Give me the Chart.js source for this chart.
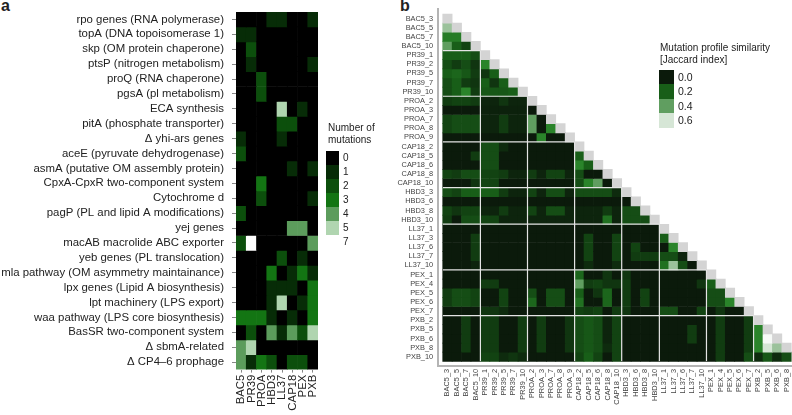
<!DOCTYPE html>
<html>
<head>
<meta charset="utf-8">
<script src="https://cdn.jsdelivr.net/npm/chart.js@4.4.0/dist/chart.umd.min.js"></script>
<style>
  body { margin: 0; background: #fff; width: 792px; height: 415px; position: relative; overflow: hidden;
         font-family: "Liberation Sans", Arial, Helvetica, sans-serif; color: #222; }
  #wrapA { position: absolute; left: 0; top: 0; width: 330px; height: 415px; }
  #wrapB { position: absolute; left: 380px; top: 0; width: 412px; height: 415px; }
  .tag { position: absolute; font-weight: bold; font-size: 16px; line-height: 16px; }
  .lg { position: absolute; font-size: 10px; line-height: 12px; white-space: nowrap; }
  .key { position: absolute; }
</style>
</head>
<body>
<div class="tag" style="left:1px; top:-2px;">a</div>
<div class="tag" style="left:400px; top:-2px;">b</div>
<div id="wrapA"><canvas id="chartA" width="330" height="415"></canvas></div>
<div id="wrapB"><canvas id="chartB" width="412" height="415"></canvas></div>
<div class="lg" style="left:328px; top:122px;">Number of<br>mutations</div>
<div id="legendA"></div>
<div class="lg" style="left:660px; top:42px;">Mutation profile similarity<br>[Jaccard index]</div>
<div id="legendB"></div>
<script>
const family = "'Liberation Sans', Arial, Helvetica, sans-serif";
Chart.defaults.font.family = family;

// panel a: number of mutations per gene / treatment
const peptides = ["BAC5", "PR39", "PROA", "HBD3", "LL37", "CAP18", "PEX", "PXB"];
const genes = [
  "rpo genes (RNA polymerase)",
  "topA (DNA topoisomerase 1)",
  "skp (OM protein chaperone)",
  "ptsP (nitrogen metabolism)",
  "proQ (RNA chaperone)",
  "pgsA (pl metabolism)",
  "ECA synthesis",
  "pitA (phosphate transporter)",
  "\u0394 yhi-ars genes",
  "aceE (pyruvate dehydrogenase)",
  "asmA (putative OM assembly protein)",
  "CpxA-CpxR two-component system",
  "Cytochrome d",
  "pagP (PL and lipid A modifications)",
  "yej genes",
  "macAB macrolide ABC exporter",
  "yeb genes (PL translocation)",
  "mla pathway (OM asymmetry maintainance)",
  "lpx genes (Lipid A biosynthesis)",
  "lpt machinery (LPS export)",
  "waa pathway (LPS core biosynthesis)",
  "BasSR two-component system",
  "\u0394 sbmA-related",
  "\u0394 CP4\u20136 prophage",
];
const mutations = [
  [0, 0, 0, 1, 1, 0, 0, 1],
  [1, 1, 0, 0, 0, 0, 0, 0],
  [0, 2, 0, 0, 0, 0, 0, 0],
  [0, 1, 0, 0, 0, 0, 0, 1],
  [0, 0, 2, 0, 0, 0, 0, 0],
  [0, 0, 2, 0, 0, 0, 0, 0],
  [0, 0, 0, 0, 5, 0, 1, 0],
  [0, 0, 0, 0, 2, 2, 0, 0],
  [1, 0, 0, 0, 1, 0, 0, 0],
  [2, 0, 0, 0, 0, 0, 0, 0],
  [0, 0, 0, 0, 0, 1, 0, 1],
  [0, 0, 3, 0, 0, 0, 0, 0],
  [0, 0, 2, 0, 0, 0, 0, 1],
  [2, 0, 0, 0, 0, 0, 0, 0],
  [0, 0, 0, 0, 0, 4, 4, 0],
  [2, 7, 0, 0, 0, 0, 0, 4],
  [0, 0, 0, 0, 2, 0, 1, 0],
  [0, 0, 0, 3, 0, 1, 3, 1],
  [0, 0, 0, 1, 1, 1, 0, 3],
  [0, 0, 0, 1, 5, 0, 1, 3],
  [3, 3, 3, 1, 0, 1, 0, 3],
  [0, 2, 0, 4, 1, 4, 2, 5],
  [4, 5, 0, 0, 0, 0, 0, 0],
  [4, 1, 3, 2, 0, 2, 2, 0],
];
const countLevels = [0, 1, 2, 3, 4, 5, 7];
const countColors = { 0: "#000000", 1: "#072c07", 2: "#0c4f0c", 3: "#137513", 4: "#5c9c5c", 5: "#b0d5b0", 7: "#ffffff" };

// panel b: pairwise Jaccard similarity of isolates (lower triangle)
const isolates = [
  "BAC5_3", "BAC5_5", "BAC5_7", "BAC5_10",
  "PR39_1", "PR39_2", "PR39_5", "PR39_7", "PR39_10",
  "PROA_2", "PROA_3", "PROA_7", "PROA_8", "PROA_9",
  "CAP18_2", "CAP18_5", "CAP18_6", "CAP18_8", "CAP18_10",
  "HBD3_3", "HBD3_6", "HBD3_8", "HBD3_10",
  "LL37_1", "LL37_3", "LL37_6", "LL37_7", "LL37_10",
  "PEX_1", "PEX_4", "PEX_5", "PEX_6", "PEX_7",
  "PXB_2", "PXB_5", "PXB_6", "PXB_8", "PXB_10",
];
const isolatesX = isolates.slice(0, -1);
const jaccard = [
  [],
  [.5],
  [.28, .28],
  [.4, .2, .12],
  [.2, .2, .2, .15],
  [.15, .1, .15, .08,  .3],
  [.2, .22, .18, .1,  .08, .2],
  [.15, .2, .1, .08,  .2, .08, .2],
  [.15, .2, .3, .1,  .18, .18, .18, .2],
  [.1, .12, .12, .1,  .03, .03, .08, .03, .03],
  [0, 0, 0, 0,  .02, .02, .02, .02, .02,  0],
  [.12, .15, .15, .15,  .03, .03, .1, .03, .03,  .4, 0],
  [.12, .15, .15, .15,  .03, .03, .1, .03, .03,  .4, 0, .3],
  [0, 0, 0, 0,  0, 0, 0, 0, 0,  0, .3, 0, 0],
  [0, 0, 0, 0,  .15, .15, .05, 0, 0,  0, 0, 0, 0, 0],
  [0, 0, 0, .1,  .15, .15, 0, 0, 0,  0, 0, 0, 0, 0,  .2],
  [0, 0, 0, 0,  .15, .15, 0, 0, 0,  0, 0, 0, 0, 0,  .3, .2],
  [.12, .1, .15, .15,  .12, .12, .1, .03, .03,  .1, .03, .12, .12, .03,  .15, 0, 0],
  [0, 0, 0, .08,  .12, .12, 0, 0, 0,  0, 0, 0, 0, 0,  .15, .3, .4, 0],
  [.15, .12, .2, .2,  .2, .2, .1, .03, .03,  .12, .03, .15, .15, .03,  .15, .15, .15, .15, .05],
  [0, 0, 0, 0,  0, 0, 0, 0, 0,  0, 0, 0, 0, 0,  0, 0, 0, 0, 0,  0],
  [.12, .08, .12, .12,  .03, .03, .1, .03, .03,  .12, .03, .15, .15, .03,  .03, .03, .03, .1, .03,  .15, .15],
  [.1, 0, .15, .15,  .12, .12, .03, .03, .03,  .03, .03, .03, .03, .03,  .03, .03, .03, .25, .03,  .15, .15, .15],
  [0, 0, 0, 0,  0, 0, 0, 0, 0,  0, 0, 0, 0, 0,  0, 0, 0, 0, 0,  0, 0, 0, 0],
  [0, 0, 0, .1,  0, 0, 0, 0, 0,  0, 0, 0, 0, 0,  0, .12, 0, 0, .12,  0, 0, 0, 0,  .2],
  [0, 0, 0, .1,  0, 0, 0, 0, 0,  0, 0, 0, 0, 0,  0, .12, 0, 0, .12,  0, .12, 0, 0,  0, .3],
  [0, 0, 0, .1,  0, 0, 0, 0, 0,  0, 0, 0, 0, 0,  0, .12, 0, 0, .12,  0, .1, .1, .1,  .15, .15, .03],
  [0, 0, 0, .03,  0, 0, 0, 0, 0,  0, 0, 0, 0, 0,  0, .05, 0, 0, .05,  0, 0, 0, 0,  .25, .5, .15, 0],
  [0, 0, 0, 0,  0, 0, 0, 0, 0,  0, 0, 0, 0, 0,  .22, 0, 0, .08, 0,  .08, 0, 0, 0,  0, 0, 0, 0, 0],
  [0, 0, 0, 0,  .1, .1, 0, 0, 0,  0, 0, 0, 0, 0,  .4, .1, .12, .08, .08,  .1, 0, 0, 0,  0, 0, 0, 0, .08,  .2],
  [.1, .15, .15, .12,  0, 0, .12, 0, 0,  .15, 0, .15, .15, 0,  .2, 0, .08, .22, 0,  .1, 0, .12, 0,  0, 0, 0, 0, 0,  .15, .15],
  [.1, .15, .15, .12,  0, 0, .12, 0, 0,  .22, 0, .15, .15, 0,  .25, 0, 0, .22, 0,  .1, 0, .12, 0,  0, 0, 0, 0, 0,  .15, .15, .3],
  [0, 0, 0, 0,  .08, .08, .05, 0, 0,  0, 0, 0, 0, 0,  .12, .1, .12, 0, .1,  .08, 0, 0, 0,  .15, .15, 0, 0, .12,  0, .08, 0, 0],
  [0, 0, .1, 0,  .1, .1, 0, 0, .1,  0, .1, 0, 0, .08,  .15, .18, .15, .03, .12,  0, 0, 0, 0,  0, 0, 0, 0, 0,  0, .1, 0, 0, .1],
  [0, 0, .1, 0,  .1, .1, 0, 0, .1,  0, .1, 0, 0, .08,  .15, .18, .15, .03, .12,  0, 0, 0, 0,  0, 0, 0, .1, 0,  0, .1, 0, 0, .1,  .3],
  [0, 0, .1, 0,  .1, .1, 0, 0, .1,  0, .1, 0, 0, .08,  .15, .18, .15, .03, .12,  0, 0, 0, 0,  0, 0, 0, .1, 0,  0, .1, 0, 0, .1,  .3, .85],
  [0, 0, .1, 0,  .1, .1, 0, 0, .1,  0, .1, 0, 0, .08,  .15, .18, .15, .05, .12,  0, 0, 0, 0,  0, 0, 0, 0, 0,  0, .1, 0, 0, .1,  .3, .6, .5],
  [0, 0, 0, 0,  .12, .12, .05, .08, .05,  0, 0, 0, 0, 0,  .12, .2, .12, 0, .12,  0, 0, 0, 0,  0, 0, 0, 0, 0,  0, .1, 0, 0, .15,  .05, .18, .05, .15],
];
const simTicks = [0.0, 0.2, 0.4, 0.6];
const simStops = [
  [0, [11, 26, 11]], [0.1, [17, 60, 17]], [0.2, [24, 94, 24]], [0.3, [42, 132, 42]],
  [0.4, [96, 158, 96]], [0.6, [214, 230, 214]], [0.85, [247, 250, 247]],
];

function simColor(v) {
  if (v === null) return "#d4d4d4"; // diagonal
  for (let i = 1; i < simStops.length; i++) {
    const [v1, c1] = simStops[i];
    if (v <= v1) {
      const [v0, c0] = simStops[i - 1];
      const t = (v - v0) / (v1 - v0);
      return "rgb(" + c0.map((c, k) => Math.round(c + (c1[k] - c) * t)).join(",") + ")";
    }
  }
  return "rgb(247,250,247)";
}

// one bar dataset per row, cells as floating bars
function cellSets(rows, colorOf) {
  return rows.map((vals, r) => ({
    data: vals.map((v, c) => ({ x: c, y: [r - 0.5, r + 0.5] })),
    backgroundColor: vals.map(colorOf),
    grouped: false,
    barPercentage: 1,
    categoryPercentage: 1,
    borderWidth: 0,
  }));
}

function fixedTicks(labels) {
  return (scale) => { scale.ticks = labels.map((_, i) => ({ value: i })); };
}

const common = {
  responsive: false,
  animation: false,
  events: [],
  plugins: { legend: { display: false }, tooltip: { enabled: false } },
};

new Chart(document.getElementById("chartA"), {
  type: "bar",
  data: { datasets: cellSets(mutations, (v) => countColors[v]) },
  options: {
    ...common,
    layout: { padding: { top: 12, right: 12, left: 0, bottom: 0 } },
    scales: {
      x: {
        type: "linear", min: -0.5, max: peptides.length - 0.5, offset: false,
        afterBuildTicks: fixedTicks(peptides),
        afterFit: (s) => { s.height = 45.4; s.paddingLeft = 0; s.paddingRight = 0; },
        ticks: { autoSkip: false, minRotation: 90, maxRotation: 90, padding: 2, color: "#222",
                 font: { size: 11.4 }, callback: (v) => peptides[v] },
        grid: { drawOnChartArea: false, offset: false, tickLength: 3, color: "#888" },
        border: { display: false },
      },
      y: {
        type: "linear", min: -0.5, max: genes.length - 0.5, reverse: true,
        afterBuildTicks: fixedTicks(genes),
        afterFit: (s) => { s.width = 236; s.paddingTop = 0; s.paddingBottom = 0; },
        ticks: { autoSkip: false, padding: 8, color: "#222", font: { size: 11.4 },
                 callback: (v) => genes[v] },
        grid: { drawOnChartArea: false, tickLength: 4, color: "#888" },
        border: { display: false },
      },
    },
  },
});

// white outlines between isolate groups
const groupEnds = isolates
  .map((name, i) => i)
  .filter((i) => i < isolates.length - 1 && isolates[i].split("_")[0] !== isolates[i + 1].split("_")[0]);

const groupLines = {
  id: "groupLines",
  afterDatasetsDraw(chart) {
    const { ctx, scales: { x, y } } = chart;
    const last = isolates.length - 0.5;
    ctx.save();
    ctx.strokeStyle = "#e4e4e4";
    ctx.lineWidth = 1.2;
    groupEnds.forEach((e) => {
      const b = e + 0.5;
      ctx.beginPath();
      ctx.moveTo(x.getPixelForValue(-0.5), y.getPixelForValue(b));
      ctx.lineTo(x.getPixelForValue(b), y.getPixelForValue(b));
      ctx.moveTo(x.getPixelForValue(b), y.getPixelForValue(b));
      ctx.lineTo(x.getPixelForValue(b), y.getPixelForValue(last));
      ctx.stroke();
    });
    ctx.restore();
  },
};

const simRows = jaccard.map((vals, r) => (r < isolatesX.length ? vals.concat([null]) : vals));

new Chart(document.getElementById("chartB"), {
  type: "bar",
  data: { datasets: cellSets(simRows, simColor) },
  options: {
    ...common,
    layout: { padding: { top: 9.4, right: 0, left: 0, bottom: 0 } },
    scales: {
      x: {
        type: "linear", min: -0.98, max: 36.58, offset: false,
        afterBuildTicks: fixedTicks(isolatesX),
        afterFit: (s) => { s.height = 49.1; s.paddingLeft = 0; s.paddingRight = 0; },
        ticks: { autoSkip: false, minRotation: 90, maxRotation: 90, padding: 3, color: "#444",
                 font: { size: 7.4 }, callback: (v) => isolatesX[v] },
        grid: { drawOnChartArea: false, drawTicks: false, offset: false },
        border: { display: true, color: "#b4b4b4", width: 2 },
      },
      y: {
        type: "linear", min: -1, max: isolates.length, reverse: true,
        afterBuildTicks: fixedTicks(isolates),
        afterFit: (s) => { s.width = 58.2; s.paddingTop = 0; s.paddingBottom = 0; },
        ticks: { autoSkip: false, padding: 5, color: "#444", font: { size: 7.4 },
                 callback: (v) => isolates[v] },
        grid: { drawOnChartArea: false, drawTicks: false },
        border: { display: true, color: "#b4b4b4", width: 2 },
      },
    },
  },
  plugins: [groupLines],
});

// legends
const legendA = document.getElementById("legendA");
countLevels.forEach((lvl, i) => {
  const top = 150.5 + i * 14.1;
  legendA.insertAdjacentHTML("beforeend",
    `<div class="key" style="left:326px;top:${top}px;width:13px;height:14.1px;background:${countColors[lvl]}"></div>` +
    `<div class="lg" style="left:343px;top:${top}px;line-height:14px;">${lvl}</div>`);
});
const legendB = document.getElementById("legendB");
simTicks.forEach((t, i) => {
  const top = 70 + i * 14.4;
  legendB.insertAdjacentHTML("beforeend",
    `<div class="key" style="left:659px;top:${top}px;width:15px;height:14.4px;background:${simColor(t)}"></div>` +
    `<div class="lg" style="left:678px;top:${top}px;line-height:14.4px;font-size:10.5px;">${t.toFixed(1)}</div>`);
});
</script>
</body>
</html>
